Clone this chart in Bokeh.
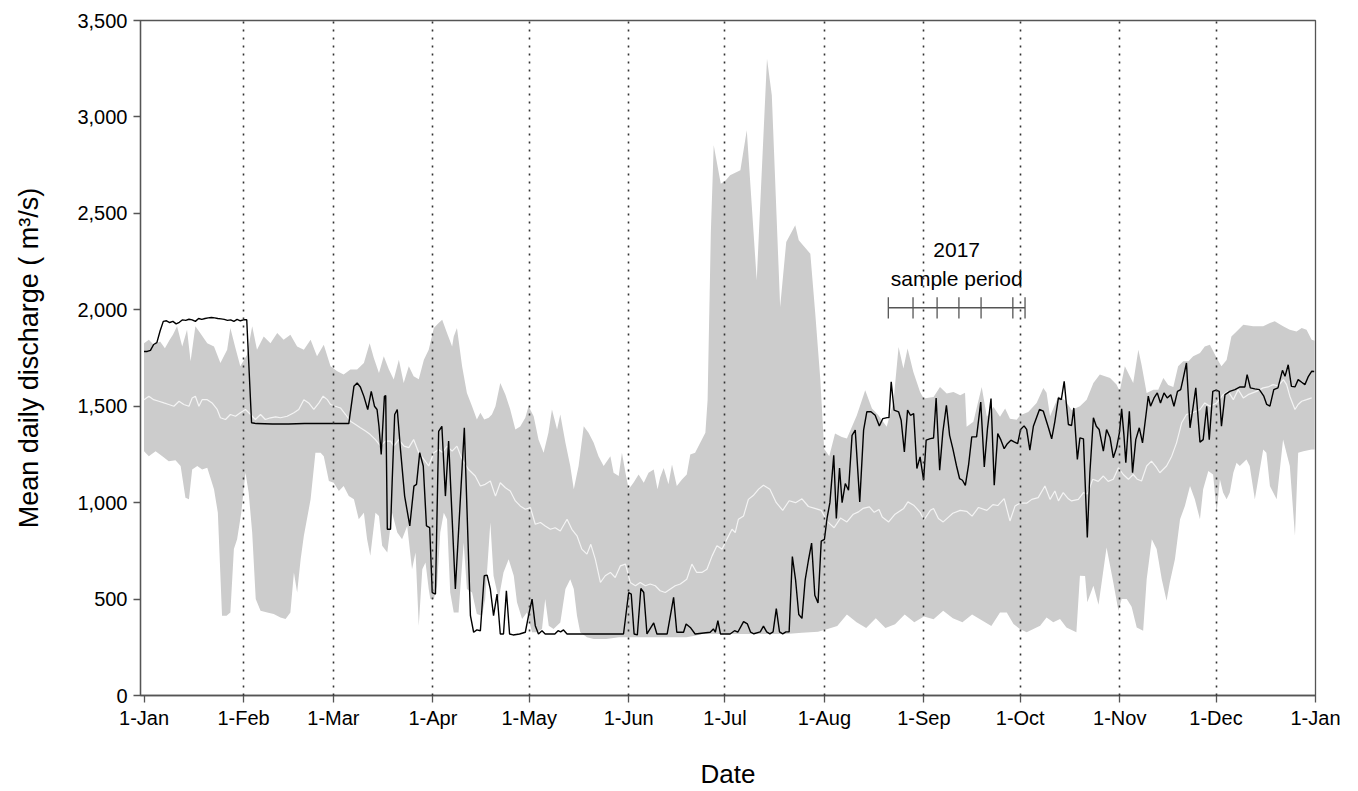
from bokeh.plotting import figure
from bokeh.models import Range1d, FixedTicker, NumeralTickFormatter, Label
from bokeh.embed import file_html
from bokeh.resources import INLINE

# Day of year (0 = 1 Jan) of each month start, and the axis labels
month_days = [0, 31, 59, 90, 120, 151, 181, 212, 243, 273, 304, 334, 365]
month_labels = ["1-Jan", "1-Feb", "1-Mar", "1-Apr", "1-May", "1-Jun", "1-Jul",
                "1-Aug", "1-Sep", "1-Oct", "1-Nov", "1-Dec", "1-Jan"]

# Historical daily maximum discharge (day, m3/s)
hist_max = [
    (0, 1827), (1.5, 1845), (3, 1819), (5, 1836), (6.5, 1800), (8, 1845), (9, 1871),
    (10.3, 1914), (11.9, 1810), (13.4, 1896), (14.5, 1733), (16, 1914), (17.5, 1880),
    (19.7, 1827), (21.8, 1810), (23.8, 1724), (25.9, 1793), (26.9, 1905), (28.5, 1800),
    (30, 1707), (32.1, 1767), (33.7, 1914), (35.2, 1793), (37.3, 1862), (39.4, 1827),
    (41.5, 1879), (43.5, 1845), (45.6, 1871), (47.7, 1810), (49.8, 1793), (51.9, 1845),
    (53.9, 1759), (56, 1819), (58.1, 1707), (60.2, 1681), (62.2, 1664), (64.3, 1690),
    (66.4, 1690), (68.5, 1724), (70.3, 1827), (71.6, 1750), (73.2, 1672), (74.7, 1759),
    (76.3, 1690), (77.8, 1638), (79.4, 1741), (80.9, 1621), (82.5, 1707), (84, 1655),
    (85.6, 1640), (87.2, 1741), (88.7, 1793), (90.3, 1905), (91.8, 1931), (92.9, 1948),
    (94.4, 1879), (96, 1810), (96.5, 1862), (97.5, 1905), (99.1, 1707), (100.6, 1569),
    (102.2, 1500), (103.7, 1431), (104.8, 1466), (106, 1431), (107.4, 1440), (108.4, 1457),
    (109.5, 1500), (111, 1621), (112.6, 1560), (114.1, 1483), (115.7, 1379), (117.2, 1395),
    (118.8, 1440), (119.8, 1500), (121.4, 1448), (122.9, 1327), (124.5, 1259), (126, 1362),
    (127.1, 1483), (128.7, 1379), (129.7, 1457), (131.3, 1310), (132.8, 1190), (133.9, 1069),
    (135.4, 1190), (137, 1396), (138.5, 1362), (140.1, 1310), (141.6, 1241), (143.2, 1190),
    (145.3, 1241), (146.3, 1155), (147.9, 1138), (148.9, 1259), (150, 1155), (151, 1069),
    (152.5, 1103), (154.1, 1146), (155.7, 1103), (157.2, 1155), (158.8, 1172), (160, 1069),
    (160.8, 1130), (161.9, 1180), (163.4, 1095), (164.5, 1198), (166, 1086), (167.6, 1120),
    (169.1, 1146), (170.2, 1250), (171.7, 1259), (173.3, 1310), (174.9, 1362), (175.6, 1534),
    (176.6, 2400), (177.5, 2853), (179.7, 2654), (181.2, 2671), (182.6, 2697), (185.8, 2723),
    (187.8, 2931), (190.9, 2153), (194.1, 3302), (195.6, 3112), (198.2, 2015), (200.1, 2352),
    (202.9, 2438), (204, 2360), (207.6, 2291), (209.1, 1989), (210.7, 1643), (211.9, 1280),
    (213.5, 1240), (215.3, 1358), (217.4, 1340), (219, 1332), (222.1, 1453), (224.7, 1583),
    (226.8, 1488), (228.8, 1453), (231.4, 1393), (233.5, 1522), (235.1, 1807), (236.6, 1695),
    (237.9, 1799), (239.7, 1678), (241.8, 1574), (242.9, 1540), (246, 1548), (248, 1600),
    (250.1, 1566), (252.2, 1574), (254.3, 1557), (255.8, 1570), (256.3, 1393), (258.4, 1419),
    (261, 1600), (262.6, 1445), (264.7, 1496), (266.7, 1445), (268.3, 1488), (269.8, 1435),
    (271.9, 1430), (273, 1453), (275.5, 1470), (278.1, 1517), (280.2, 1595), (281.2, 1570),
    (282.3, 1448), (284.9, 1552), (287, 1530), (289, 1480), (291.6, 1500), (293.7, 1534),
    (295.8, 1621), (297.8, 1664), (301, 1646), (303, 1612), (304, 1577), (305.6, 1707),
    (308.2, 1620), (309.8, 1793), (310.8, 1715), (312.4, 1569), (314.5, 1586), (316, 1586),
    (317.6, 1646), (319.1, 1610), (320.7, 1600), (322.2, 1707), (323.8, 1733), (325.4, 1733),
    (326.9, 1759), (329, 1776), (330.5, 1810), (332.1, 1819), (334.2, 1750), (335.7, 1707),
    (337.3, 1740), (338.8, 1862), (340.4, 1888), (342.5, 1922), (345.6, 1914), (348.7, 1914),
    (350.8, 1931), (352.3, 1940), (354.9, 1914), (357, 1896), (359.1, 1888), (360.7, 1905),
    (362.2, 1896), (363.8, 1845), (364.8, 1840),
]

# Historical daily minimum discharge (day, m3/s)
hist_min = [
    (0, 1267), (1.5, 1241), (3.6, 1267), (5.7, 1241), (7.7, 1215), (9.8, 1220), (11.4, 1190),
    (12.9, 1026), (14, 1017), (15, 1172), (16.6, 1190), (18.1, 1172), (19.7, 1181),
    (21.8, 1069), (23, 948), (24.3, 414), (25.7, 414), (26.9, 431), (28, 759), (29, 810),
    (30.3, 948), (31.6, 1155), (32.6, 1052), (33.7, 845), (34.8, 500), (36.3, 440),
    (38.4, 431), (40.4, 422), (42.5, 405), (44.1, 397), (45.6, 431), (46.7, 638), (47.7, 534),
    (48.8, 707), (49.8, 828), (51.9, 1017), (53.4, 1259), (55, 1259), (56, 1240), (57.6, 1112),
    (59.1, 1103), (60.7, 1060), (62.2, 1086), (63.8, 1034), (65.4, 1017), (66.9, 914),
    (68.5, 948), (69.5, 810), (70.5, 724), (72.1, 948), (73.2, 931), (74.2, 776), (75.8, 741),
    (77.3, 948), (78.9, 845), (80.4, 810), (82, 879), (83.5, 655), (84.6, 741), (85.6, 362),
    (86.7, 655), (87.7, 690), (88.7, 552), (89.2, 500), (90.3, 500), (91.3, 569), (92.3, 845),
    (93.4, 948), (94.4, 914), (95.4, 534), (96.5, 431), (98, 431), (99.6, 793), (100.6, 552),
    (102.2, 534), (103.7, 422), (105.3, 414), (106.3, 500), (107.9, 897), (108.9, 621),
    (110.5, 500), (112, 638), (113.6, 707), (115.2, 621), (116.2, 483), (117.8, 397),
    (119.3, 431), (120.9, 328), (122.4, 328), (124, 345), (125, 500), (126.1, 362),
    (127.6, 345), (129.7, 379), (131.3, 552), (132.8, 603), (133.9, 552), (134.9, 414),
    (135.9, 328), (138, 302), (140.1, 293), (144, 293), (148, 302), (153, 302), (158, 302),
    (163, 302), (169, 302), (171.7, 310), (174, 319), (177, 319), (183, 319), (190, 319),
    (200, 319), (205, 325), (210, 330), (213, 345), (216, 360), (219, 420), (222, 380),
    (225, 350), (228, 400), (231, 350), (234, 370), (237, 420), (240, 380), (243, 410),
    (246, 395), (249, 440), (252, 400), (255, 380), (258, 420), (261, 390), (264, 360),
    (266.7, 431), (268.8, 431), (270.9, 371), (272.9, 345), (275, 328), (277.1, 345),
    (279.2, 362), (281.2, 405), (283.3, 380), (285.4, 397), (287.4, 353), (289.5, 336),
    (290.5, 328), (291.6, 621), (293.2, 620), (293.9, 483), (295.8, 569), (297.4, 470),
    (299.9, 767), (302, 586), (303.6, 440), (304.6, 500), (306.2, 500), (307.7, 460),
    (309.3, 353), (311.3, 336), (312.4, 603), (314, 810), (315.5, 759), (317.1, 603),
    (318.6, 491), (319.6, 586), (321.2, 707), (322.8, 914), (324.3, 983), (325.9, 1086),
    (327.4, 1017), (329, 914), (330, 1069), (331.6, 1164), (333.1, 1146), (334.2, 948),
    (335.2, 1121), (336.2, 1052), (337.3, 1017), (338.3, 1052), (339.4, 1155), (340.4, 1207),
    (341.4, 1190), (343.5, 1224), (344.5, 1190), (346.1, 1017), (348.7, 1276), (349.7, 1259),
    (350.8, 1086), (352.9, 1017), (354.9, 1327), (357, 1190), (358.6, 828), (359.6, 1259),
    (361.2, 1267), (363.8, 1276), (364.8, 1276),
]

# Long-term mean daily discharge (day, m3/s)
hist_mean = [
    (0, 1534), (1.5, 1552), (3, 1534), (4.6, 1526), (6.2, 1517), (7.7, 1509), (9.3, 1500),
    (10.9, 1526), (12.4, 1509), (14, 1500), (15, 1543), (16, 1552), (17.1, 1500), (18.1, 1534),
    (19.7, 1534), (21.2, 1517), (22.8, 1483), (23.8, 1440), (25.4, 1431), (26.9, 1457),
    (28.5, 1448), (30, 1466), (31.6, 1483), (33.2, 1457), (34.7, 1431), (36.3, 1457),
    (37.8, 1431), (39.4, 1440), (41, 1445), (42.5, 1440), (44.6, 1448), (46.7, 1466),
    (48.2, 1483), (49.8, 1534), (51.3, 1517), (52.9, 1483), (54.5, 1517), (55.8, 1552),
    (57.1, 1534), (58.1, 1509), (59.6, 1500), (61.2, 1491), (62.8, 1457), (64.3, 1422),
    (65.9, 1405), (67.4, 1388), (69, 1371), (70.5, 1353), (72.1, 1327), (73.7, 1293),
    (75.2, 1319), (76.8, 1319), (77.8, 1293), (79.4, 1327), (81, 1293), (82.5, 1285),
    (84, 1327), (85.6, 1259), (87.2, 1224), (88.7, 1190), (90.3, 1259), (91.8, 1276),
    (93, 1260), (94.4, 1293), (96, 1267), (97.5, 1293), (99.1, 1224), (101.1, 1172),
    (103.2, 1138), (104.8, 1086), (106.3, 1095), (107.9, 1112), (109.5, 1034), (111, 1103),
    (112.6, 1077), (114.1, 1060), (115.7, 1009), (117.2, 983), (118.8, 966), (120.4, 974),
    (121.9, 888), (123.5, 897), (125, 879), (126.6, 862), (128.1, 870), (129.7, 853),
    (131.8, 914), (133.3, 862), (134.9, 828), (136.4, 759), (138, 733), (139.2, 784),
    (140.6, 707), (142.2, 586), (143.7, 621), (145.3, 638), (146.8, 612), (148.4, 672),
    (150, 681), (151.5, 586), (153.1, 569), (154.6, 586), (156.2, 569), (157.7, 578),
    (159.3, 569), (160.8, 543), (162.4, 534), (164, 552), (165.5, 569), (167.1, 578),
    (169.1, 603), (170.7, 681), (172.2, 638), (173.8, 638), (175.4, 655), (177, 724),
    (178.5, 776), (180.1, 759), (181.6, 810), (183.2, 862), (184.2, 845), (185.2, 914),
    (186.8, 931), (188.3, 1017), (190, 1040), (191.5, 1070), (193, 1090), (195, 1070),
    (197, 1000), (199, 960), (201, 1010), (203, 1000), (205, 1020), (207, 980), (209, 970),
    (211, 960), (213, 900), (215, 870), (217, 920), (219, 900), (221, 940), (222.6, 952),
    (224, 970), (226, 978), (227.5, 950), (229, 965), (230, 926), (232, 900), (234, 940),
    (236.7, 970), (238, 1004), (239.8, 987), (241.8, 950), (243, 910), (245, 960), (246, 970),
    (247.5, 918), (249, 900), (251, 930), (252, 945), (254.3, 960), (256.3, 955), (258, 930),
    (260, 975), (262.6, 960), (264.5, 990), (266, 985), (268, 1021), (269.8, 905),
    (271.4, 983), (272.9, 997), (275, 997), (276.6, 1017), (278.6, 1026), (280.7, 1086),
    (282.3, 1017), (283.8, 1060), (284.9, 1009), (286.4, 1052), (288, 1020), (289, 1009),
    (291.1, 1017), (292.7, 1052), (293.9, 1045), (295.6, 1121), (297.3, 1110), (298.9, 1138),
    (300.4, 1110), (302, 1121), (303.6, 1181), (305.1, 1146), (306.7, 1121), (308.2, 1146),
    (309.5, 1121), (310.8, 1112), (312.4, 1190), (313.9, 1215), (315.5, 1181), (316.5, 1155),
    (318.6, 1190), (320.2, 1241), (321.7, 1310), (323.3, 1414), (324.8, 1457), (326.7, 1466),
    (329, 1483), (330.5, 1517), (332.1, 1500), (334.2, 1517), (336.2, 1560), (337.8, 1577),
    (339.4, 1534), (340.9, 1586), (342.5, 1543), (344, 1560), (346.6, 1577), (348.7, 1595),
    (350.2, 1600), (351.8, 1612), (353.4, 1605), (355, 1638), (356, 1612), (357, 1552),
    (358.6, 1483), (359.6, 1509), (360.7, 1526), (362.2, 1534), (363.8, 1543),
]

# 2017 mean daily discharge (day, m3/s)
flow_2017 = [
    (0, 1784), (1, 1784), (2, 1790), (3, 1820), (4, 1830), (5, 1890), (6, 1940), (7, 1943),
    (8, 1934), (9, 1940), (10, 1927), (11, 1935), (12, 1948), (13, 1945), (14, 1951),
    (15, 1948), (16, 1940), (17, 1955), (18, 1950), (19, 1955), (20, 1958), (21, 1960),
    (22, 1958), (23, 1955), (24, 1953), (25, 1950), (26, 1945), (27, 1948), (28, 1940),
    (29, 1950), (30, 1943), (31, 1948), (32, 1948), (33.5, 1414), (35, 1410), (40, 1408),
    (45, 1408), (50, 1410), (55, 1410), (60, 1410), (63.8, 1410), (65.4, 1603), (66.4, 1620),
    (67.4, 1600), (68.5, 1551), (69.7, 1483), (70.8, 1577), (71.8, 1500), (72.6, 1483),
    (73.2, 1396), (73.9, 1250), (74.9, 1551), (75.3, 1555), (75.8, 862), (76.8, 862),
    (77.3, 1103), (78.1, 1457), (78.9, 1483), (79.9, 1276), (81.2, 1034), (82.8, 879),
    (84.1, 1086), (84.9, 1095), (85.9, 1259), (87, 1190), (88, 879), (89, 871), (89.8, 534),
    (90.8, 526), (91.8, 1370), (92.8, 1396), (93.9, 1034), (94.9, 1319), (97, 552),
    (99.8, 1388), (101.7, 414), (102.7, 328), (103.7, 340), (104.8, 336), (106, 621),
    (106.9, 624), (107.9, 552), (108.9, 414), (110, 526), (111, 319), (112, 319), (112.9, 543),
    (113.9, 319), (115, 314), (117, 319), (118.8, 328), (119.8, 414), (120.9, 500),
    (121.9, 362), (122.9, 319), (124, 336), (125, 319), (127, 319), (128, 319), (129, 336),
    (129.8, 330), (130.7, 340), (131.8, 319), (135, 319), (140, 319), (145, 319), (149.4, 319),
    (151, 534), (151.8, 526), (152.7, 319), (153.7, 314), (154.8, 555), (155.7, 534),
    (156.7, 319), (158.8, 376), (159.8, 319), (163, 319), (165, 509), (166, 328), (168.1, 328),
    (168.9, 371), (170.2, 353), (171.7, 319), (176.4, 328), (177.4, 345), (178, 328),
    (178.8, 388), (179.6, 319), (182.6, 319), (184, 336), (185, 328), (186.8, 383), (188, 371),
    (189, 328), (190, 320), (192, 330), (193, 360), (194, 330), (195, 320), (196, 330),
    (197, 450), (198, 330), (199, 320), (200, 330), (201, 330), (202, 720), (203, 600),
    (204, 420), (205, 400), (206, 600), (207, 700), (208, 790), (209, 520), (210, 480),
    (211, 800), (212, 810), (212.8, 918), (213.7, 1000), (214.9, 1246), (215.7, 918),
    (216.7, 1180), (217.5, 1000), (218.5, 1099), (219.5, 1064), (220.6, 1349), (221.6, 1376),
    (223, 1004), (224.2, 1376), (225.2, 1471), (226.5, 1471), (227.8, 1453), (229.1, 1398),
    (230.2, 1436), (231.5, 1441), (232.1, 1441), (232.8, 1626), (233.7, 1480), (235.1, 1471),
    (235.9, 1427), (236.9, 1263), (237.9, 1480), (238.8, 1453), (239.8, 1462), (240.8, 1177),
    (241.8, 1237), (242.9, 1116), (243.7, 1324), (245, 1332), (246, 1335), (246.8, 1543),
    (247.9, 1168), (248.9, 1367), (250, 1505), (251, 1349), (252, 1280), (253.1, 1194),
    (254.1, 1125), (255, 1116), (255.9, 1090), (256.9, 1194), (257.9, 1341), (259.4, 1341),
    (260.7, 1522), (261.8, 1185), (262.8, 1384), (263.9, 1540), (264.9, 1090), (266, 1358),
    (267, 1324), (268, 1280), (269, 1306), (270.1, 1324), (271.1, 1315), (272.2, 1306),
    (273.1, 1379), (274.2, 1398), (275, 1380), (276, 1272), (277.1, 1396), (279, 1483),
    (280.2, 1474), (281.8, 1388), (282.8, 1331), (283.8, 1422), (284.9, 1543), (285.8, 1534),
    (286.7, 1629), (288, 1405), (289, 1400), (289.7, 1491), (290.8, 1224), (291.6, 1336),
    (292.7, 1331), (293.9, 819), (294.7, 1155), (295.8, 1440), (296.7, 1396), (297.6, 1379),
    (298.9, 1267), (299.9, 1379), (301, 1336), (302, 1233), (303, 1284), (303.9, 1362),
    (304.6, 1486), (305.3, 1353), (305.9, 1207), (307, 1474), (308, 1155), (309, 1327),
    (310.1, 1388), (311.1, 1310), (312.2, 1457), (312.9, 1552), (313.6, 1500), (314.7, 1543),
    (315.7, 1569), (316.7, 1517), (317.8, 1569), (318.8, 1543), (319.9, 1560), (320.9, 1500),
    (322, 1577), (323, 1586), (323.8, 1646), (324.8, 1724), (325.9, 1388), (326.9, 1500),
    (327.7, 1595), (329, 1314), (330, 1327), (331.1, 1500), (331.9, 1327), (333, 1577),
    (334, 1583), (335, 1577), (335.7, 1396), (336.8, 1560), (338.3, 1577), (339.9, 1586),
    (341.5, 1600), (343, 1600), (343.7, 1664), (344.7, 1595), (346.1, 1590), (347.5, 1586),
    (348.9, 1552), (349.8, 1509), (350.8, 1500), (352, 1586), (353.3, 1595), (354.7, 1686),
    (355.5, 1655), (356.5, 1715), (357.5, 1603), (358.6, 1600), (359.6, 1638), (360.7, 1624),
    (361.7, 1612), (362.8, 1655), (363.8, 1681), (364.6, 1680),
]

# 2017 sampling dates (day of year) and the level of the marker bar
sample_days = [231.9, 239.6, 247.1, 253.9, 260.8, 270.7, 274.5]
sample_bar_level = 2010

FONT = "Liberation Sans"

p = figure(width=1358, height=791, output_backend="svg", toolbar_location=None,
           x_range=Range1d(-1.1, 365), y_range=Range1d(0, 3500),
           min_border_left=140, min_border_right=43, min_border_top=20,
           min_border_bottom=94)

# min-max envelope
max_x, max_y = zip(*hist_max)
min_x, min_y = zip(*hist_min)
p.patch(x=list(max_x) + list(min_x)[::-1], y=list(max_y) + list(min_y)[::-1],
        fill_color="#cccccc", line_color=None)

# long-term mean
mx, my = zip(*hist_mean)
p.line(list(mx), list(my), line_color="#f4f4f4", line_width=1.2)

# 2017 series
ox, oy = zip(*flow_2017)
p.line(list(ox), list(oy), line_color="black", line_width=1.4)

# sampling-period bar with tick marks
bar_col = "#555555"
p.segment(x0=[sample_days[0]], y0=[sample_bar_level], x1=[sample_days[-1]],
          y1=[sample_bar_level], line_color=bar_col, line_width=1.5)
p.segment(x0=sample_days, y0=[sample_bar_level - 55] * len(sample_days),
          x1=sample_days, y1=[sample_bar_level + 55] * len(sample_days),
          line_color=bar_col, line_width=1.3)
mid = (sample_days[0] + sample_days[-1]) / 2
p.add_layout(Label(x=mid, y=sample_bar_level + 300, text="2017", text_align="center",
                   text_baseline="middle", text_font=FONT, text_font_size="21px",
                   text_color="black"))
p.add_layout(Label(x=mid, y=sample_bar_level + 150, text="sample period",
                   text_align="center", text_baseline="middle", text_font=FONT,
                   text_font_size="21px", text_color="black"))

# axes
axis_col = "#555555"
p.xaxis.ticker = FixedTicker(ticks=month_days)
p.xaxis.major_label_overrides = {d: lab for d, lab in zip(month_days, month_labels)}
p.yaxis.ticker = FixedTicker(ticks=list(range(0, 3501, 500)))
p.yaxis.formatter = NumeralTickFormatter(format="0,0")
for ax in (p.xaxis, p.yaxis):
    ax.axis_line_color = axis_col
    ax.axis_line_width = 1.3
    ax.major_tick_line_color = axis_col
    ax.major_tick_line_width = 1.3
    ax.major_tick_out = 7
    ax.major_tick_in = 0
    ax.minor_tick_line_color = None
    ax.major_label_text_font = FONT
    ax.major_label_text_font_size = "20px"
    ax.major_label_text_color = "black"
    ax.axis_label_text_font = FONT
    ax.axis_label_text_font_style = "normal"
    ax.axis_label_text_color = "black"

p.xaxis.axis_label = "Date"
p.xaxis.axis_label_text_font_size = "26px"
p.xaxis.axis_label_standoff = 27
p.xaxis.major_label_standoff = 4
p.yaxis.axis_label = "Mean daily discharge ( m³/s)"
p.yaxis.axis_label_text_font_size = "27px"
p.yaxis.axis_label_standoff = 30
p.yaxis.major_label_standoff = 6

# dotted month separators drawn above the envelope
p.ygrid.grid_line_color = None
p.xgrid.ticker = FixedTicker(ticks=month_days[1:-1])
p.xgrid.grid_line_color = "#333333"
p.xgrid.grid_line_width = 1.6
p.xgrid.grid_line_dash = "2 6"
p.xgrid.level = "overlay"

p.outline_line_color = axis_col
p.outline_line_width = 1.3
p.background_fill_color = "white"
p.border_fill_color = "white"

open("out.html", "w").write(file_html(p, INLINE))
